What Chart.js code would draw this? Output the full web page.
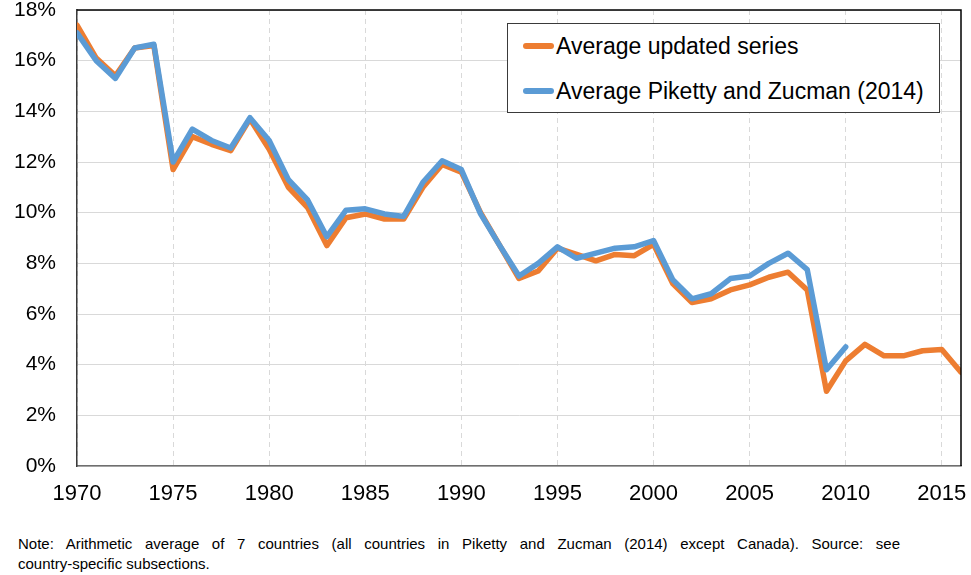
<!DOCTYPE html>
<html>
<head>
<meta charset="utf-8">
<script src="https://cdn.jsdelivr.net/npm/chart.js@4/dist/chart.umd.min.js"></script>
<style>
  html, body { margin: 0; padding: 0; background: #fff; }
  body { width: 971px; height: 575px; position: relative; overflow: hidden; font-family: Arial, "Liberation Sans", sans-serif; }
  #wrap { position: absolute; left: 0; top: 0; width: 971px; height: 520px; }
  #legend { position: absolute; left: 507px; top: 23px; width: 431px; height: 88px; border: 1.5px solid #3a3a3a; background: #fff; box-sizing: content-box; }
  .item { position: absolute; left: 15px; height: 30px; display: flex; align-items: center; font-size: 23px; color: #000; white-space: nowrap; }
  .swatch { display: inline-block; width: 31px; height: 6px; border-radius: 3px; margin-right: 2px; }
  #note { position: absolute; left: 18px; top: 534px; width: 882px; font-size: 15px; line-height: 20px; color: #000; }
  #note .l1 { display: block; text-align: justify; text-align-last: justify; }
</style>
</head>
<body>
<div id="wrap"><canvas id="c" width="971" height="520"></canvas></div>
<div id="legend">
  <div class="item" style="top:7px"><span class="swatch" style="background:#ED7D31"></span><span>Average updated series</span></div>
  <div class="item" style="top:52px"><span class="swatch" style="background:#5B9BD5"></span><span>Average Piketty and Zucman (2014)</span></div>
</div>
<div id="note"><span class="l1">Note: Arithmetic average of 7 countries (all countries in Piketty and Zucman (2014) except Canada). Source: see</span><span>country-specific subsections.</span></div>
<script>
const years = [1970,1971,1972,1973,1974,1975,1976,1977,1978,1979,1980,1981,1982,1983,1984,1985,1986,1987,1988,1989,1990,1991,1992,1993,1994,1995,1996,1997,1998,1999,2000,2001,2002,2003,2004,2005,2006,2007,2008,2009,2010,2011,2012,2013,2014,2015,2016];
const updatedSeries = [17.4,16.1,15.4,16.5,16.6,11.7,13.0,12.7,12.45,13.7,12.5,11.0,10.2,8.7,9.8,9.95,9.75,9.75,11.0,11.9,11.6,10.0,8.7,7.4,7.7,8.6,8.35,8.1,8.35,8.3,8.75,7.2,6.45,6.6,6.95,7.15,7.45,7.65,6.95,2.95,4.15,4.8,4.35,4.35,4.55,4.6,3.7];
const pikettyZucman = [17.1,16.0,15.3,16.5,16.65,12.0,13.3,12.85,12.55,13.75,12.85,11.3,10.5,9.05,10.1,10.15,9.95,9.85,11.2,12.05,11.7,9.95,8.7,7.5,8.0,8.65,8.2,8.4,8.6,8.65,8.9,7.35,6.6,6.8,7.4,7.5,8.0,8.4,7.75,3.8,4.7];
const seriesNames = ["Average updated series", "Average Piketty and Zucman (2014)"];
const yTicks = [0,2,4,6,8,10,12,14,16,18];
const xTicks = [1970,1975,1980,1985,1990,1995,2000,2005,2010,2015];

function toPoints(vals){ return vals.map((v,i)=>({x: years[i], y: v})); }

const frame = {
  id: 'frame',
  afterDraw(chart){
    const {ctx, chartArea:a} = chart;
    ctx.save();
    ctx.strokeStyle = '#000';
    ctx.lineWidth = 1.5;
    ctx.beginPath();
    ctx.moveTo(a.left, a.top); ctx.lineTo(a.right, a.top); ctx.lineTo(a.right, a.bottom);
    ctx.stroke();
    ctx.restore();
  }
};

new Chart(document.getElementById('c'), {
  type: 'line',
  data: {
    datasets: [
      { label: seriesNames[0], order: 2, data: toPoints(updatedSeries), borderColor: '#ED7D31', backgroundColor: '#ED7D31', borderWidth: 5.5, pointRadius: 0, tension: 0, borderJoinStyle: 'round', borderCapStyle: 'round' },
      { label: seriesNames[1], order: 1, data: toPoints(pikettyZucman), borderColor: '#5B9BD5', backgroundColor: '#5B9BD5', borderWidth: 5.5, pointRadius: 0, tension: 0, borderJoinStyle: 'round', borderCapStyle: 'round' }
    ]
  },
  options: {
    responsive: false,
    animation: false,
    events: [],
    layout: { padding: { top: 10, right: 10, left: 0, bottom: 0 } },
    plugins: { legend: { display: false }, tooltip: { enabled: false } },
    scales: {
      x: {
        type: 'linear', min: 1970, max: 2016,
        afterFit(s){ s.height = 54; s.paddingLeft = 0; s.paddingRight = 0; },
        afterBuildTicks(s){ s.ticks = xTicks.map(v=>({value:v})); },
        ticks: { color: '#000', font: { family: 'Arial, "Liberation Sans"', size: 22 }, padding: 15, maxRotation: 0, callback: v => String(v) },
        grid: { color: '#d9d9d9', lineWidth: 1, drawTicks: false },
        border: { display: true, color: '#6f6f6f', width: 1.5, dash: [5,4] }
      },
      y: {
        min: 0, max: 18,
        afterFit(s){ s.width = 77; s.paddingTop = 0; s.paddingBottom = 0; },
        afterBuildTicks(s){ s.ticks = yTicks.map(v=>({value:v})); },
        ticks: { color: '#000', font: { family: 'Arial, "Liberation Sans"', size: 21 }, padding: 21, callback: v => v + '%' },
        grid: { color: '#d9d9d9', lineWidth: 1, drawTicks: false },
        border: { display: true, color: '#3a3a3a', width: 1.5 }
      }
    }
  },
  plugins: [frame]
});
</script>
</body>
</html>
